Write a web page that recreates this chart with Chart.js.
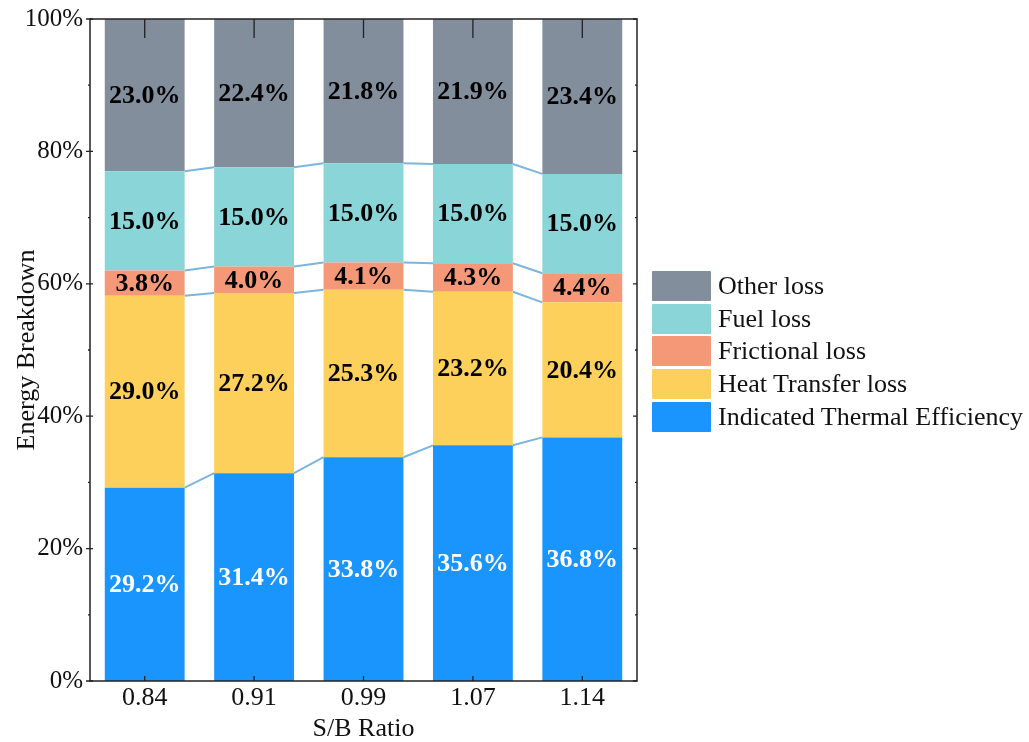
<!DOCTYPE html>
<html>
<head>
<meta charset="utf-8">
<script src="https://cdn.jsdelivr.net/npm/chart.js@4.4.1/dist/chart.umd.min.js"></script>
<style>
  html, body { margin: 0; padding: 0; background: #fff; }
  #wrap { position: relative; width: 1029px; height: 742px; }
  canvas { display: block; }
  #legend { position: absolute; left: 652px; top: 270px; font-family: "Liberation Serif", "Times New Roman", serif; font-size: 26px; color: #111; }
  .item { display: flex; align-items: center; height: 32.6px; white-space: nowrap; }
  .sw { width: 59px; height: 30px; margin-right: 7px; border-radius: 1px; flex: none; }
</style>
</head>
<body>
<div id="wrap">
  <canvas id="c" width="1029" height="742"></canvas>
  <div id="legend"></div>
</div>
<script>
// S/B ratios on the x axis
const categories = ['0.84', '0.91', '0.99', '1.07', '1.14'];

// Energy shares (%) per component, stacked bottom to top
const indicatedThermal = [29.2, 31.4, 33.8, 35.6, 36.8];
const heatTransferLoss = [29.0, 27.2, 25.3, 23.2, 20.4];
const frictionalLoss   = [3.8, 4.0, 4.1, 4.3, 4.4];
const fuelLoss         = [15.0, 15.0, 15.0, 15.0, 15.0];
const otherLoss        = [23.0, 22.4, 21.8, 21.9, 23.4];

const yTickValues = [0, 20, 40, 60, 80, 100];

const seriesNames  = ['Indicated Thermal Efficiency', 'Heat Transfer loss', 'Frictional loss', 'Fuel loss', 'Other loss'];
const seriesValues = [indicatedThermal, heatTransferLoss, frictionalLoss, fuelLoss, otherLoss];
const seriesColors = ['#1a95fd', '#fcd05a', '#f59878', '#89d5d7', '#838e9d'];
const labelColors  = ['#ffffff', '#000000', '#000000', '#000000', '#000000'];

const SERIF = '"Liberation Serif", "Times New Roman", serif';

// Thin connectors linking each stack boundary between neighbouring bars
const connectorPlugin = {
  id: 'connectors',
  beforeDatasetsDraw(chart) {
    const ctx = chart.ctx;
    const nSeries = chart.data.datasets.length;
    ctx.save();
    ctx.strokeStyle = '#7cb5de';
    ctx.lineWidth = 2;
    for (let s = 0; s < nSeries - 1; s++) {
      const meta = chart.getDatasetMeta(s);
      for (let i = 0; i < meta.data.length - 1; i++) {
        const a = meta.data[i], b = meta.data[i + 1];
        ctx.beginPath();
        ctx.moveTo(a.x + a.width / 2, a.y);
        ctx.lineTo(b.x - b.width / 2, b.y);
        ctx.stroke();
      }
    }
    ctx.restore();
  }
};

// Percentage labels centred in each segment
const valueLabelPlugin = {
  id: 'valueLabels',
  afterDatasetsDraw(chart) {
    const ctx = chart.ctx;
    ctx.save();
    ctx.font = 'bold 26px ' + SERIF;
    ctx.textAlign = 'center';
    ctx.textBaseline = 'middle';
    chart.data.datasets.forEach((ds, s) => {
      const meta = chart.getDatasetMeta(s);
      meta.data.forEach((bar, i) => {
        const cy = (bar.y + bar.base) / 2;
        ctx.fillStyle = labelColors[s];
        ctx.fillText(ds.data[i].toFixed(1) + '%', bar.x, cy + 1);
      });
    });
    ctx.restore();
  }
};

// Box frame with inward/outward tick marks
const framePlugin = {
  id: 'frame',
  afterDraw(chart) {
    const ctx = chart.ctx;
    const a = chart.chartArea;
    const x = chart.scales.x, y = chart.scales.y;
    ctx.save();
    ctx.strokeStyle = '#222';
    ctx.lineWidth = 1.5;
    ctx.strokeRect(a.left, a.top, a.right - a.left, a.bottom - a.top);
    ctx.lineWidth = 1.3;
    ctx.beginPath();
    // y ticks: major and minor
    for (let v = 0; v <= 100; v += 10) {
      const py = y.getPixelForValue(v);
      const major = v % 20 === 0;
      const len = major ? 4 : 2;
      ctx.moveTo(a.left - len, py); ctx.lineTo(a.left + (major ? 3 : 0), py);
      ctx.moveTo(a.right, py); ctx.lineTo(a.right - len, py);
    }
    // x ticks at category centres
    categories.forEach((c, i) => {
      const px = x.getPixelForValue(i);
      ctx.moveTo(px, a.bottom); ctx.lineTo(px, a.bottom - 5);
      ctx.moveTo(px, a.top); ctx.lineTo(px, a.top + 19);
    });
    ctx.stroke();
    ctx.restore();
  }
};

const chart = new Chart(document.getElementById('c'), {
  type: 'bar',
  data: {
    labels: categories,
    datasets: seriesNames.map((name, s) => ({
      label: name,
      data: seriesValues[s],
      backgroundColor: seriesColors[s],
      borderWidth: 0,
      categoryPercentage: 1,
      barPercentage: 0.73
    }))
  },
  options: {
    responsive: false,
    animation: false,
    devicePixelRatio: 1,
    layout: { padding: { left: 0, right: 392, top: 19, bottom: 0 } },
    plugins: { legend: { display: false }, tooltip: { enabled: false } },
    scales: {
      x: {
        stacked: true,
        grid: { display: false, drawTicks: false },
        border: { display: false },
        ticks: { color: '#111', font: { family: SERIF, size: 26 }, padding: 2 },
        title: { display: true, text: 'S/B Ratio', color: '#111', font: { family: SERIF, size: 26 }, padding: { top: 0, bottom: -3 } },
        afterFit(scale) { scale.height = 61; scale.paddingLeft = 0; scale.paddingRight = 0; }
      },
      y: {
        stacked: true,
        min: 0, max: 100,
        afterBuildTicks(scale) { scale.ticks = yTickValues.map(v => ({ value: v })); },
        grid: { display: false, drawTicks: false },
        border: { display: false },
        ticks: { color: '#111', font: { family: SERIF, size: 25 }, padding: 7, callback: v => v + '%' },
        title: { display: true, text: 'Energy Breakdown', color: '#111', font: { family: SERIF, size: 26 }, padding: { top: 12, bottom: 0 } },
        afterFit(scale) { scale.width = 90; scale.paddingTop = 0; scale.paddingBottom = 0; }
      }
    }
  },
  plugins: [connectorPlugin, valueLabelPlugin, framePlugin]
});

// Legend, top entry is the top of the stack
const legend = document.getElementById('legend');
for (let s = seriesNames.length - 1; s >= 0; s--) {
  const row = document.createElement('div');
  row.className = 'item';
  const sw = document.createElement('div');
  sw.className = 'sw';
  sw.style.background = seriesColors[s];
  const t = document.createElement('span');
  t.textContent = seriesNames[s];
  row.appendChild(sw); row.appendChild(t);
  legend.appendChild(row);
}
</script>
</body>
</html>
